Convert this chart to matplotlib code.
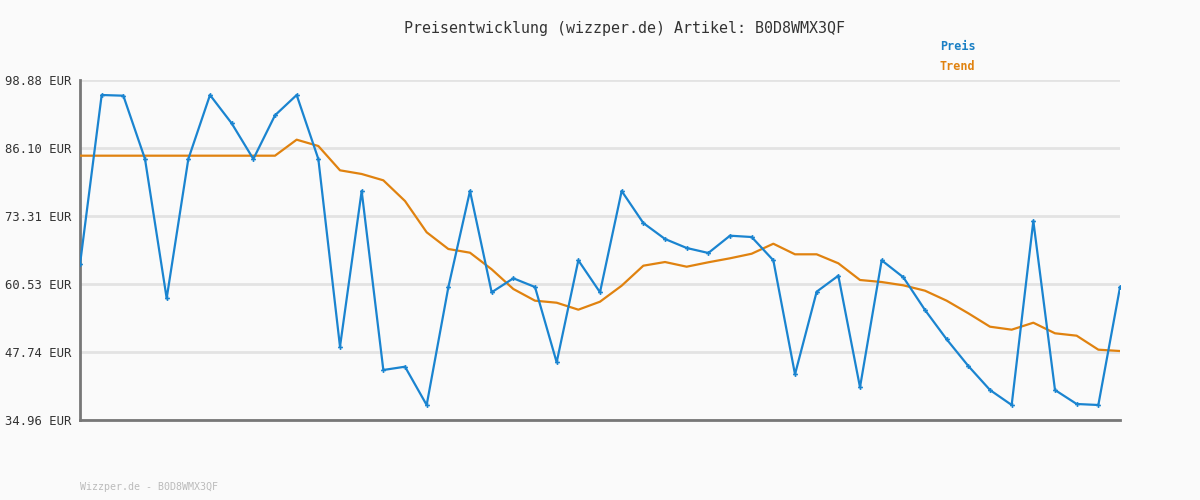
import numpy as np
import matplotlib
matplotlib.use('Agg')
import matplotlib.pyplot as plt

# ====== Data ======
preis = [64.23, 96.06, 95.93, 84.03, 57.84, 84.03, 96.06, 90.74, 84.03, 92.24,
         96.06, 84.03, 48.74, 78.01, 44.36, 44.98, 37.78, 59.91, 78.01, 58.97,
         61.60, 59.96, 45.81, 64.98, 58.97, 78.01, 71.99, 68.99, 67.30, 66.36,
         69.61, 69.36, 64.98, 43.55, 59.08, 62.09, 41.11, 64.98, 61.79, 55.64,
         50.13, 45.11, 40.60, 37.78, 72.37, 40.60, 37.97, 37.78, 59.91]
trend = [84.65, 84.65, 84.65, 84.65, 84.65, 84.65, 84.65, 84.65, 84.65, 84.65,
         87.66, 86.47, 81.90, 81.21, 80.02, 76.13, 70.25, 67.11, 66.41, 63.29,
         59.59, 57.39, 57.01, 55.70, 57.20, 60.21, 63.97, 64.66, 63.78, 64.61,
         65.36, 66.22, 68.10, 66.11, 66.11, 64.42, 61.28, 60.90, 60.28, 59.27,
         57.39, 55.02, 52.50, 51.94, 53.25, 51.26, 50.81, 48.18, 47.93]
y_ticks = [34.96, 47.74, 60.53, 73.31, 86.10, 98.88]
artikel = 'B0D8WMX3QF'

BG = '#fafafa'
BLUE = '#1a84d0'
ORANGE = '#e0820f'
MONO = 'DejaVu Sans Mono'

fig = plt.figure(figsize=(12, 5), dpi=100, facecolor=BG)
ax = fig.add_axes([80 / 1200, 80 / 500, 1040 / 1200, 340 / 500], facecolor=BG)

x = np.arange(len(preis))
ax.plot(x, trend, color=ORANGE, linewidth=1.6, zorder=3)
ax.plot(x, preis, color=BLUE, linewidth=1.6, marker='P', markersize=3.5,
        markeredgewidth=0, zorder=4)

ax.set_xlim(0, len(preis) - 1)
ax.set_ylim(y_ticks[0], y_ticks[-1])
ax.set_yticks(y_ticks)
ax.set_yticklabels([f'{v:.2f} EUR' for v in y_ticks], fontfamily=MONO,
                   fontsize=8.8, color='#333333')
ax.set_xticks([])
ax.tick_params(axis='y', length=0, pad=6)
ax.grid(axis='y', color='#e3e3e3', linewidth=2)
ax.set_axisbelow(True)

for side in ['top', 'right']:
    ax.spines[side].set_visible(False)
for side in ['left', 'bottom']:
    ax.spines[side].set_color('#777777')
    ax.spines[side].set_linewidth(2)

fig.text(0.52, 1 - 28 / 500, f'Preisentwicklung (wizzper.de) Artikel: {artikel}',
         ha='center', va='center', fontfamily=MONO, fontsize=10.8, color='#333333')
fig.text(940 / 1200, 1 - 47 / 500, 'Preis', ha='left', va='center',
         fontfamily=MONO, fontsize=8.5, fontweight='bold', color='#1a7fc4')
fig.text(940 / 1200, 1 - 67 / 500, 'Trend', ha='left', va='center',
         fontfamily=MONO, fontsize=8.5, fontweight='bold', color=ORANGE)
fig.text(80 / 1200, 1 - 487 / 500, f'Wizzper.de - {artikel}', ha='left',
         va='center', fontfamily=MONO, fontsize=7.2, color='#bbbbbb')

plt.savefig('out.png', dpi=100, facecolor=BG)
